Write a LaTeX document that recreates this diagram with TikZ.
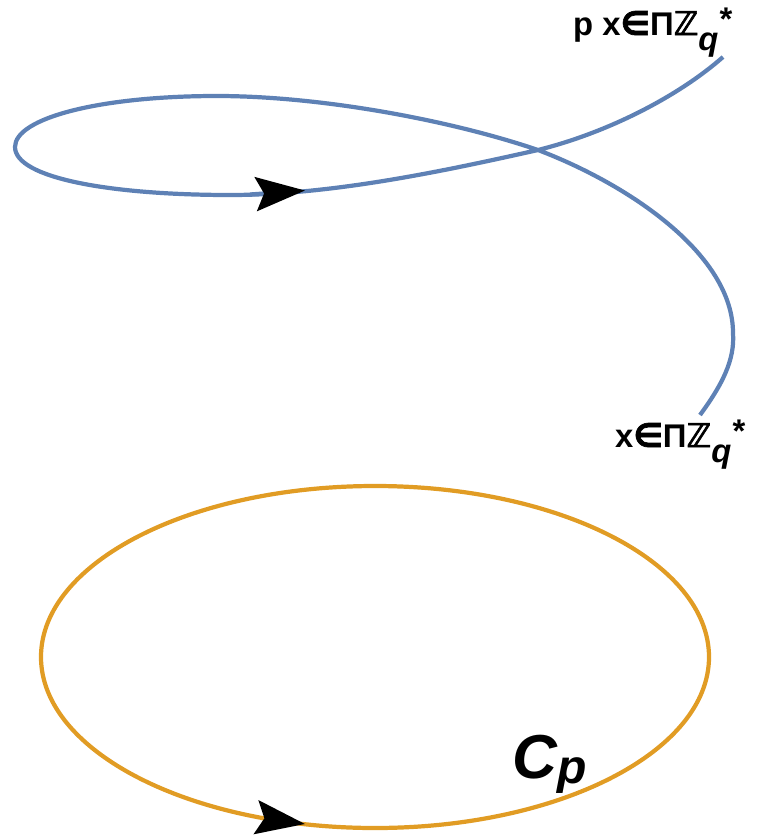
\documentclass[tikz,border=0pt]{standalone}
\usepackage{fontspec}
\setmainfont{Liberation Sans}
\newfontfamily\symfnt{DejaVu Sans}[BoldFeatures={FakeBold=2}]
\usetikzlibrary{positioning,arrows.meta}
\definecolor{curveblue}{RGB}{94,129,181}
\definecolor{curveorange}{RGB}{225,156,36}
\newcommand{\PiZq}{Π{\symfnt ℤ}\raisebox{-13pt}{\itshape q}\kern1pt\raisebox{4pt}{*}}

\begin{document}
\begin{tikzpicture}[x=0.03cm, y=-0.03cm,
    helixline/.style={draw=curveblue, line width=3.6pt},
    cpline/.style={draw=curveorange, line width=3.6pt},
    bigtip/.style={-{Stealth[length=42pt, width=29pt, inset=7pt, black]}},
    lbl/.style={anchor=base west, inner sep=0pt,
                font=\fontsize{28}{32}\selectfont\bfseries}]
  \useasboundingbox (0,0) rectangle (762,838);

  % lifted path
  \coordinate (start) at (700,415);
  \coordinate (stop)  at (723,57);
  \draw[helixline] (start) .. controls (722,385) and (735,360) .. (733,333)
    .. controls (733,255) and (630,185) .. (538,150)
    .. controls (450,120) and (320,96) .. (217,96)
    .. controls (100,96) and (15,118) .. (15,147)
    .. controls (15,178) and (110,195) .. (230,195)
    .. controls (330,195) and (440,172) .. (538,150)
    .. controls (610,132) and (680,95) .. (stop);
  \coordinate (ha) at (250,194.5);
  \coordinate (hb) at (305,190.5);
  \draw[helixline, bigtip] (ha) -- (hb);

  \node[lbl] (startlbl) at (615,447) {x{\symfnt ∈}\PiZq};
  \node[lbl] (stoplbl)  at (573,35) {p x{\symfnt ∈}\PiZq};

  % contour C_p
  \coordinate (cp) at (375,657);
  \draw[cpline] (cp) ellipse [x radius=334, y radius=171];
  \coordinate (oa) at (262,818);
  \coordinate (ob) at (305,824);
  \draw[cpline, bigtip] (oa) -- (ob);
  \node[anchor=base west, inner sep=0pt,
        font=\fontsize{53}{60}\selectfont\bfseries\itshape] (cplbl)
    at (512,778) {C\raisebox{-5pt}{\fontsize{41}{48}\selectfont p}};
\end{tikzpicture}
\end{document}
